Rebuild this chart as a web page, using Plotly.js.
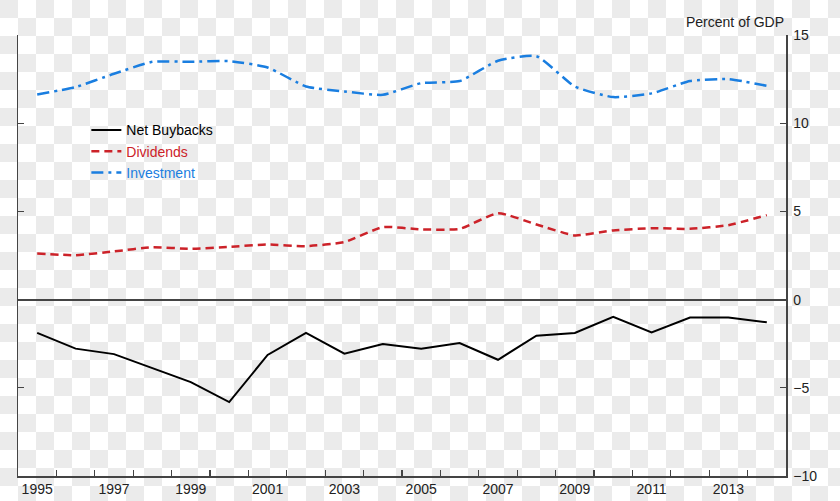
<!DOCTYPE html>
<html>
<head>
<meta charset="utf-8">
<script src="https://cdn.plot.ly/plotly-3.0.1.min.js"></script>
<style>
  html, body { margin: 0; padding: 0; }
  body {
    width: 840px; height: 501px; overflow: hidden;
    background-color: #ffffff;
    background-image: conic-gradient(#ffffff 0 25%, #ebebeb 0 50%, #ffffff 0 75%, #ebebeb 0);
    background-size: 36px 36px;
  }
  #chart { width: 840px; height: 501px; }
</style>
</head>
<body>
<div id="chart"></div>
<script>
const years = [1995,1996,1997,1998,1999,2000,2001,2002,2003,2004,2005,2006,2007,2008,2009,2010,2011,2012,2013,2014];
const netBuybacks = [-1.89,-2.78,-3.09,-3.89,-4.68,-5.81,-3.14,-1.89,-3.07,-2.52,-2.78,-2.46,-3.41,-2.05,-1.89,-0.98,-1.86,-1.02,-1.02,-1.29];
const dividends = [2.61,2.52,2.73,2.97,2.88,2.99,3.12,3.03,3.26,4.11,3.98,4.01,4.90,4.26,3.64,3.92,4.05,4.01,4.22,4.79];
const investment = [11.63,12.05,12.80,13.48,13.48,13.52,13.16,12.08,11.80,11.61,12.27,12.39,13.54,13.80,12.08,11.48,11.69,12.39,12.50,12.12];
const labelYears = [1995,1997,1999,2001,2003,2005,2007,2009,2011,2013];
const yTicks = [-10,-5,0,5,10,15];
const seriesNames = ['Net Buybacks','Dividends','Investment'];
const seriesColors = ['#000000','#cc2229','#1a7ee0'];

const halfYears = years.slice(0, -1).map(y => y + 0.5);

const traces = [
  {x: years, y: netBuybacks, mode: 'lines', name: seriesNames[0],
   line: {color: seriesColors[0], width: 2}},
  {x: years, y: dividends, mode: 'lines', name: '<span style="color:' + seriesColors[1] + '">' + seriesNames[1] + '</span>',
   line: {color: seriesColors[1], width: 2.5, dash: '8px,5px', shape: 'spline', smoothing: 0.5}},
  {x: years, y: investment, mode: 'lines', name: '<span style="color:' + seriesColors[2] + '">' + seriesNames[2] + '</span>',
   line: {color: seriesColors[2], width: 2.5, dash: '12px,5px,3px,5px', shape: 'spline', smoothing: 0.5}}
];

const axisColor = '#444444';
const fontFam = '"Liberation Sans", Arial, sans-serif';

const layout = {
  width: 840, height: 501,
  margin: {l: 18, r: 54, t: 35, b: 25, pad: 0},
  paper_bgcolor: 'rgba(0,0,0,0)',
  plot_bgcolor: 'rgba(0,0,0,0)',
  font: {family: fontFam, size: 14, color: '#222222'},
  showlegend: true,
  legend: {x: 0.089, y: 0.82, xanchor: 'left', yanchor: 'top',
           bgcolor: 'rgba(0,0,0,0)', font: {size: 14, color: '#000'},
           itemwidth: 30, tracegroupgap: 0},
  xaxis: {
    range: [1994.5, 2014.5], tickmode: 'array', tickvals: labelYears,
    ticktext: labelYears.map(String),
    ticks: '', showgrid: false, zeroline: false,
    showline: true, linecolor: axisColor, linewidth: 1.5,
    minor: {tickmode: 'array', tickvals: halfYears, ticks: 'inside', ticklen: 6,
            tickcolor: axisColor, tickwidth: 1.2, showgrid: false},
    tickfont: {size: 14, color: '#222'}
  },
  yaxis: {
    side: 'right', range: [-10, 15], tickmode: 'array', tickvals: yTicks,
    ticks: 'inside', ticklen: 6, tickcolor: axisColor, tickwidth: 1.2,
    showline: true, linecolor: axisColor, linewidth: 1.5, mirror: 'ticks',
    showgrid: false, zeroline: true, zerolinecolor: axisColor, zerolinewidth: 1.8,
    ticklabelstandoff: 3,
    tickfont: {size: 14, color: '#222'}
  },
  annotations: [
    {text: 'Percent of GDP', xref: 'paper', yref: 'paper', x: 1, y: 1.03,
     xanchor: 'right', yanchor: 'middle', showarrow: false,
     font: {size: 14, color: '#222'}}
  ]
};

Plotly.newPlot('chart', traces, layout, {staticPlot: true, displayModeBar: false});
</script>
</body>
</html>
